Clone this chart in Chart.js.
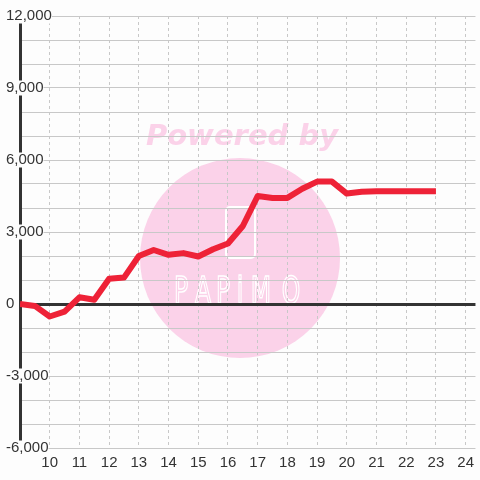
<!DOCTYPE html>
<html>
<head>
<meta charset="utf-8">
<script src="https://cdn.jsdelivr.net/npm/chart.js@4"></script>
<style>
  html, body { margin: 0; padding: 0; background: #fdfdfd; }
  #wrap { width: 480px; height: 480px; }
</style>
</head>
<body>
<div id="wrap"><canvas id="myChart" width="480" height="480"></canvas></div>
<script>
// hours along the bottom
const hours = [9, 9.5, 10, 10.5, 11, 11.5, 12, 12.5, 13, 13.5, 14, 14.5, 15, 15.5,
               16, 16.5, 17, 17.5, 18, 18.5, 19, 19.5, 20, 20.5, 21, 21.5, 22, 22.5, 23];
const values = [0, -80, -520, -320, 280, 180, 1050, 1100, 2000, 2250, 2050, 2120, 1980, 2280,
                2520, 3250, 4500, 4420, 4420, 4800, 5100, 5100, 4600, 4680, 4700, 4700, 4700, 4700, 4700];
const xTicks = [10, 11, 12, 13, 14, 15, 16, 17, 18, 19, 20, 21, 22, 23, 24];
const yLabelTicks = [-6000, -3000, 0, 3000, 6000, 9000, 12000];

const points = hours.map((h, i) => ({ x: h, y: values[i] }));

// pale watermark behind the grid
const watermark = {
    id: 'watermark',
    beforeDraw(chart) {
        const c = chart.ctx;
        c.save();
        c.fillStyle = '#fdfdfd';
        c.fillRect(0, 0, chart.width, chart.height);
        c.fillStyle = 'rgb(251, 210, 233)';
        c.beginPath();
        c.arc(240, 258, 100, 0, Math.PI * 2);
        c.fill();
        c.font = 'italic bold 29px "DejaVu Sans", sans-serif';
        c.textAlign = 'center';
        c.textBaseline = 'alphabetic';
        c.fillText('Powered by', 242, 145);
        // phone outline
        c.strokeStyle = '#ffffff';
        c.lineWidth = 2;
        c.beginPath();
        c.roundRect(226, 207, 29, 51, 4);
        c.stroke();
        // logo letters
        const letters = ['P', 'A', 'P', 'i', 'M', 'O'];
        const lx = [181, 203, 223, 240, 261, 291];
        c.font = '38px "DejaVu Sans", sans-serif';
        c.lineWidth = 1.6;
        letters.forEach((ch, i) => {
            c.save();
            c.translate(lx[i], 303);
            c.scale(0.62, 1);
            c.strokeText(ch, 0, 0);
            c.restore();
        });
        c.restore();
    }
};

const data = {
    datasets: [{
        label: 'value',
        data: points,
        borderColor: '#ee2237',
        borderWidth: 6,
        borderJoinStyle: 'round',
        pointRadius: 0,
        tension: 0,
        fill: false
    }]
};

const config = {
    type: 'line',
    data: data,
    plugins: [watermark],
    options: {
        responsive: false,
        animation: false,
        layout: { padding: { left: 20, right: 0, top: 16, bottom: 2 } },
        plugins: {
            legend: { display: false },
            tooltip: { enabled: false }
        },
        scales: {
            x: {
                type: 'linear',
                min: 9,
                max: 24.33,
                afterBuildTicks: scale => {
                    scale.ticks = xTicks.map(v => ({ value: v }));
                },
                grid: {
                    color: '#c8c8c8',
                    lineWidth: 1,
                    drawTicks: false
                },
                border: { display: false, dash: [3, 3] },
                ticks: {
                    color: '#333',
                    font: { family: '"Liberation Sans", Arial, sans-serif', size: 15, lineHeight: 1.2 },
                    padding: 6,
                    maxRotation: 0,
                    autoSkip: false
                }
            },
            y: {
                min: -6000,
                max: 12000,
                afterFit: scale => { scale.width = 0; },
                ticks: {
                    stepSize: 1000,
                    autoSkip: false,
                    mirror: true,
                    padding: -14,
                    z: 1,
                    color: '#333',
                    font: { family: '"Liberation Sans", Arial, sans-serif', size: 15, lineHeight: 1 },
                    showLabelBackdrop: ctx => yLabelTicks.includes(ctx.tick.value),
                    backdropColor: '#fdfdfd',
                    backdropPadding: 0,
                    callback: v => yLabelTicks.includes(v) ? v.toLocaleString('en-US') : ''
                },
                grid: {
                    drawTicks: false,
                    color: ctx => ctx.tick && ctx.tick.value === 0 ? '#333' : '#c8c8c8',
                    lineWidth: ctx => ctx.tick && ctx.tick.value === 0 ? 3 : 1
                },
                border: { display: true, color: '#333', width: 3 }
            }
        }
    }
};

const myChart = new Chart(document.getElementById('myChart'), config);
</script>
</body>
</html>
